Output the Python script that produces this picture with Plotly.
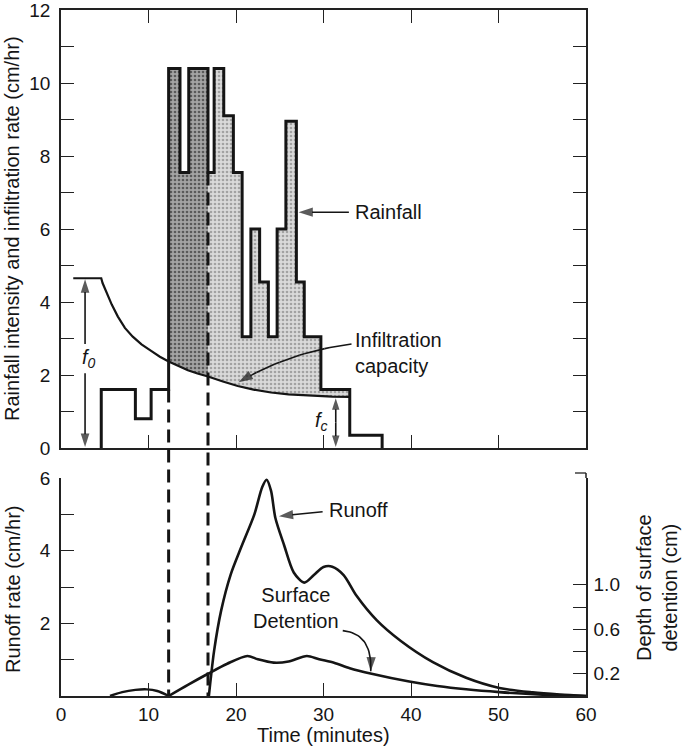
import numpy as np
import plotly.graph_objects as go

# ----------------- data -----------------
# Rainfall hyetograph: step edges (minutes) and intensity of each step (cm/hr)
rain_edges = [4.6, 8.5, 10.3, 12.3, 13.6, 14.6, 16.8, 17.5, 18.6, 19.7, 20.7,
              21.7, 22.7, 23.7, 24.7, 25.7, 26.9, 27.8, 29.7, 33.0, 36.7]
rain_intensity = [1.6, 0.8, 1.6, 10.4, 7.55, 10.4, 7.55, 10.4, 9.1, 7.55,
                  3.05, 6.0, 4.55, 3.05, 6.0, 8.95, 4.55, 3.05, 1.6, 0.35]

# Infiltration capacity curve (cm/hr)
infil_time = [1.4, 4.6, 4.75, 5.0, 5.4, 5.8, 6.5, 7.3, 8.2, 9.2, 10.3, 11.3, 12.3,
              13.4, 14.5, 15.6, 16.8, 18.5, 20.2, 22.0, 24.0, 26.0, 28.5, 31.0, 33.0]
infil_rate = [4.65, 4.65, 4.52, 4.38, 4.14, 3.93, 3.6, 3.29, 3.05, 2.84, 2.66, 2.5, 2.37,
              2.24, 2.13, 2.04, 1.96, 1.82, 1.7, 1.6, 1.52, 1.47, 1.43, 1.41, 1.4]

# Runoff hydrograph (cm/hr)
runoff_time = [16.9, 17.1, 17.5, 18.3, 19.4, 20.6, 22.1, 23.0, 23.5, 24.0, 24.5, 25.5,
               26.6, 27.8, 28.9, 30.0, 31.0, 32.3, 33.8, 36.1, 38.8, 42.5, 46.3,
               50.1, 53.9, 57.0, 60.0]
runoff_rate = [0.0, 0.45, 1.25, 2.35, 3.35, 4.1, 5.0, 5.75, 5.95, 5.65, 4.9, 4.15,
               3.4, 3.12, 3.33, 3.55, 3.56, 3.33, 2.75, 2.08, 1.52, 0.93, 0.5,
               0.22, 0.1, 0.04, 0.0]

# Depth of surface detention (cm), right axis
detention_time = [5.6, 7.0, 8.5, 9.8, 11.0, 12.3, 14.5, 16.8, 19.0, 21.3, 22.5, 24.3,
                  26.0, 28.1, 29.5, 31.2, 33.0, 35.5, 39.8, 43.0, 46.3, 50.1, 55.0, 60.0]
detention_depth = [0.0, 0.035, 0.055, 0.06, 0.045, 0.0, 0.1, 0.2, 0.29, 0.36, 0.33, 0.30,
                   0.31, 0.36, 0.33, 0.30, 0.25, 0.2, 0.13, 0.09, 0.06, 0.035, 0.012, 0.0]

ponding_start = 12.3     # first dashed line
runoff_start = 16.8      # second dashed line
excess_end = 33.0

x_ticks_top = [10, 20, 30, 40, 50]
x_ticks_bottom = [0, 10, 20, 30, 40, 50, 60]
y_ticks_top = list(range(13))
y_ticks_top_text = [str(v) if v % 2 == 0 else "" for v in y_ticks_top]
y_ticks_runoff = list(range(7))
y_ticks_runoff_text = ["", "", "2", "", "4", "", "6"]
y_ticks_det = [0.2, 0.4, 0.6, 0.8, 1.0, 1.96]
y_ticks_det_text = ["0.2", "", "0.6", "", "1.0", ""]

# ----------------- layout geometry -----------------
FONT = "Liberation Sans, Arial, sans-serif"
INK = "#151515"
W_FIG, H_FIG = 685, 747
ML, MR, MT, MB = 61, 99, 10, 51
PW = W_FIG - ML - MR
PH = H_FIG - MT - MB
top_dom = [(PH + MT - 448) / PH, 1.0]
bot_dom = [0.0, (PH + MT - 478) / PH]


def pxx(px):
    return (px - ML) / PW


def pxy(py):
    return (MT + PH - py) / PH


def top_paper(v):
    return top_dom[0] + v / 12.0 * (top_dom[1] - top_dom[0])


fig = go.Figure()

# ----------------- excess-rain fills -----------------
def excess_polygon(a, b):
    xs, ys = [], []
    for i, v in enumerate(rain_intensity):
        l, r = max(rain_edges[i], a), min(rain_edges[i + 1], b)
        if l < r:
            xs += [l, r]
            ys += [v, v]
    it = np.array(infil_time)
    ir = np.array(infil_rate)
    inner = [t for t in infil_time if a < t < b]
    bx = [b] + inner[::-1] + [a]
    by = list(np.interp(bx, it, ir))
    return xs + bx + [xs[0]], ys + by + [ys[0]]


for (a, b, bg, fg) in [(ponding_start, runoff_start, "#a4a4a4", "#5a5a5a"),
                       (runoff_start, excess_end, "#dadada", "#a2a2a2")]:
    px_, py_ = excess_polygon(a, b)
    fig.add_trace(go.Scatter(
        x=px_, y=py_, mode="lines", line=dict(width=0), fill="toself",
        fillcolor=bg,
        fillpattern=dict(shape=".", bgcolor=bg, fgcolor=fg, size=4, solidity=0.35),
        hoverinfo="skip", xaxis="x", yaxis="y"))

# ----------------- infiltration capacity -----------------
fig.add_trace(go.Scatter(x=infil_time, y=infil_rate, mode="lines",
                         line=dict(color=INK, width=2.2), xaxis="x", yaxis="y"))

# ----------------- rainfall outline -----------------
sx, sy = [rain_edges[0]], [0]
for i, v in enumerate(rain_intensity):
    sx += [rain_edges[i], rain_edges[i + 1]]
    sy += [v, v]
sx.append(rain_edges[-1])
sy.append(0)
fig.add_trace(go.Scatter(x=sx, y=sy, mode="lines",
                         line=dict(color=INK, width=3), xaxis="x", yaxis="y"))

# ----------------- runoff and detention -----------------
fig.add_trace(go.Scatter(x=runoff_time, y=runoff_rate, mode="lines",
                         line=dict(color=INK, width=2.6, shape="spline", smoothing=0.8),
                         xaxis="x2", yaxis="y2"))
k = detention_time.index(ponding_start)
fig.add_trace(go.Scatter(x=detention_time[:k + 1], y=detention_depth[:k + 1], mode="lines",
                         line=dict(color=INK, width=2.4, shape="spline", smoothing=1.0),
                         xaxis="x2", yaxis="y3"))
fig.add_trace(go.Scatter(x=detention_time[k:], y=detention_depth[k:], mode="lines",
                         line=dict(color=INK, width=2.6, shape="spline", smoothing=0.8),
                         xaxis="x2", yaxis="y3"))


# ----------------- arrows (decorations) -----------------
def arrow(xs, ys, xa, ya, size=15):
    n = len(xs)
    fig.add_trace(go.Scatter(
        x=xs, y=ys, mode="lines+markers",
        line=dict(color=INK, width=1.6),
        marker=dict(symbol="arrow", size=[0] * (n - 1) + [size], color=INK,
                    angleref="previous", line=dict(width=0)),
        xaxis=xa, yaxis=ya, hoverinfo="skip"))


def bezier(p0, p1, p2, n=24):
    s = np.linspace(0, 1, n)
    x = (1 - s) ** 2 * p0[0] + 2 * (1 - s) * s * p1[0] + s ** 2 * p2[0]
    y = (1 - s) ** 2 * p0[1] + 2 * (1 - s) * s * p1[1] + s ** 2 * p2[1]
    return list(x), list(y)


# Rainfall pointer
arrow([32.9, 27.15], [6.46, 6.46], "x", "y")
# Infiltration capacity pointer (curved)
bx, by = bezier((33.2, 2.85), (26.0, 2.62), (20.3, 1.8))
arrow(bx, by, "x", "y")
# f0 double arrow
arrow([2.75, 2.75], [2.85, 4.62], "x", "y", size=14)
arrow([2.75, 2.75], [2.05, 0.03], "x", "y", size=14)
# fc double arrow
arrow([31.4, 31.4], [0.7, 1.36], "x", "y", size=12)
arrow([31.4, 31.4], [0.7, 0.03], "x", "y", size=12)
# Runoff pointer
arrow([29.9, 24.9], [5.07, 4.95], "x2", "y2")
# Surface detention pointer (curved)
bx, by = bezier((32.2, 1.8), (35.6, 1.72), (35.4, 0.68))
arrow(bx, by, "x2", "y2")

# ----------------- dashed lines -----------------
shapes = []
for xv, ytop in [(ponding_start, 1.6), (runoff_start, 7.55)]:
    shapes.append(dict(type="line", xref="x", yref="paper", x0=xv, x1=xv,
                       y0=top_paper(ytop), y1=0,
                       line=dict(color=INK, width=3, dash="13px,7px")))
# right axis cap above the plot area
shapes.append(dict(type="line", xref="paper", yref="paper", x0=1, x1=1,
                   y0=bot_dom[1], y1=pxy(473), line=dict(color="#222", width=1.5)))
shapes.append(dict(type="line", xref="paper", yref="paper", x0=1, x1=pxx(575),
                   y0=pxy(473), y1=pxy(473), line=dict(color="#222", width=1.3)))

# ----------------- text -----------------
TF = dict(family=FONT, size=20, color=INK)
annotations = [
    dict(x=33.4, y=6.46, xref="x", yref="y", text="Rainfall", showarrow=False,
         xanchor="left", yanchor="middle", font=TF),
    dict(x=33.4, y=2.6, xref="x", yref="y", text="Infiltration<br>capacity",
         showarrow=False, xanchor="left", yanchor="middle", align="left", font=TF),
    dict(x=3.25, y=2.45, xref="x", yref="y",
         text="<i>f</i><sub><i>0</i></sub>", showarrow=False,
         xanchor="center", yanchor="middle", font=TF),
    dict(x=29.8, y=0.72, xref="x", yref="y",
         text="<i>f</i><sub><i>c</i></sub>", showarrow=False,
         xanchor="center", yanchor="middle", font=TF),
    dict(x=30.4, y=5.12, xref="x2", yref="y2", text="Runoff", showarrow=False,
         xanchor="left", yanchor="middle", font=TF),
    dict(x=26.8, y=2.42, xref="x2", yref="y2", text="Surface<br>Detention",
         showarrow=False, xanchor="center", yanchor="middle", align="center", font=TF),
    # axis titles
    dict(x=pxx(12), y=pxy(229), xref="paper", yref="paper",
         text="Rainfall intensity and infiltration rate (cm/hr)", textangle=-90,
         showarrow=False, xanchor="center", yanchor="middle", font=TF),
    dict(x=pxx(13), y=pxy(590), xref="paper", yref="paper",
         text="Runoff rate (cm/hr)", textangle=-90,
         showarrow=False, xanchor="center", yanchor="middle", font=TF),
    dict(x=pxx(657), y=pxy(588), xref="paper", yref="paper",
         text="Depth of surface<br>detention (cm)", textangle=-90, align="center",
         showarrow=False, xanchor="center", yanchor="middle", font=TF),
    dict(x=pxx(323), y=pxy(735), xref="paper", yref="paper",
         text="Time (minutes)", showarrow=False,
         xanchor="center", yanchor="middle", font=TF),
]

# ----------------- axes -----------------
ax_common = dict(showgrid=False, zeroline=False, showline=True, linecolor="#222",
                 linewidth=1.5, ticks="inside", ticklen=13, tickwidth=1.3,
                 tickcolor="#222", automargin=False,
                 tickfont=dict(family=FONT, size=19, color=INK))

fig.update_layout(
    template="none",
    width=W_FIG, height=H_FIG,
    margin=dict(l=ML, r=MR, t=MT, b=MB, autoexpand=False),
    paper_bgcolor="white", plot_bgcolor="white",
    showlegend=False,
    xaxis=dict(ax_common, domain=[0, 1], anchor="y", range=[0, 60],
               tickvals=x_ticks_top, showticklabels=False, mirror="allticks"),
    yaxis=dict(ax_common, domain=top_dom, anchor="x", range=[0, 12],
               tickvals=y_ticks_top, ticktext=y_ticks_top_text, mirror="allticks",
               ticklabelstandoff=5, ticklabeloverflow="allow"),
    xaxis2=dict(ax_common, domain=[0, 1], anchor="y2", range=[0, 60],
                tickvals=x_ticks_bottom, ticklabelstandoff=0),
    yaxis2=dict(ax_common, domain=bot_dom, anchor="x2", range=[0, 6],
                tickvals=y_ticks_runoff, ticktext=y_ticks_runoff_text,
                ticklabelstandoff=5),
    yaxis3=dict(ax_common, overlaying="y2", anchor="x2", side="right", range=[0, 1.96],
                tickvals=y_ticks_det, ticktext=y_ticks_det_text, ticklabelstandoff=2),
    shapes=shapes,
    annotations=annotations,
)

fig.write_html("out.html",
               config={"displayModeBar": False},
               post_script="document.body.style.margin='0';"
                           "document.body.style.overflow='hidden';")
